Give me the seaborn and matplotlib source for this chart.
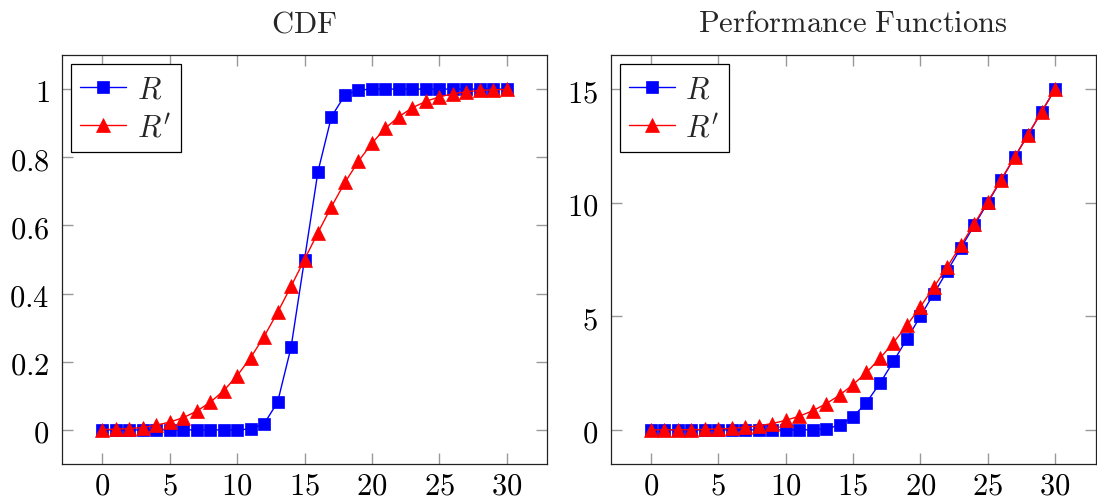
import matplotlib
matplotlib.use("Agg")
import matplotlib.pyplot as plt
import matplotlib.ticker as mticker
import seaborn as sns
import pandas as pd

x_vals = list(range(31))

cdf_R = [0.0, 0.0, 0.0, 0.0, 0.0, 0.0, 0.0, 0.0, 0.0, 0.0, 0.0,
         0.003, 0.018, 0.081, 0.242, 0.5, 0.758, 0.919, 0.982, 0.997, 1.0,
         1.0, 1.0, 1.0, 1.0, 1.0, 1.0, 1.0, 1.0, 1.0, 1.0]
cdf_Rp = [0.001, 0.002, 0.004, 0.007, 0.014, 0.023, 0.036, 0.055, 0.081, 0.115, 0.159,
          0.212, 0.274, 0.345, 0.421, 0.5, 0.579, 0.655, 0.726, 0.788, 0.841,
          0.885, 0.919, 0.945, 0.964, 0.977, 0.986, 0.992, 0.996, 0.998, 0.999]

perf_R = [0.0, 0.0, 0.0, 0.0, 0.0, 0.0, 0.0, 0.0, 0.0, 0.0, 0.0,
          0.001, 0.009, 0.052, 0.204, 0.57, 1.205, 2.054, 3.012, 4.0, 5.0,
          6.0, 7.0, 8.0, 9.0, 10.0, 11.0, 12.0, 13.0, 14.0, 15.0]
perf_Rp = [0.001, 0.003, 0.006, 0.011, 0.02, 0.04, 0.07, 0.12, 0.18, 0.28, 0.42,
           0.6, 0.84, 1.15, 1.53, 1.99, 2.53, 3.15, 3.84, 4.6, 5.42,
           6.28, 7.18, 8.12, 9.07, 10.04, 11.02, 12.01, 13.0, 14.0, 15.0]

titles = ["CDF", "Performance Functions"]
series_labels = ["$R$", "$R'$"]
x_ticks = [0, 5, 10, 15, 20, 25, 30]
y_ticks_cdf = [0, 0.2, 0.4, 0.6, 0.8, 1]
y_ticks_perf = [0, 5, 10, 15]

sns.set_style("ticks")
plt.rcParams["font.family"] = ["DejaVu Serif"]
plt.rcParams["mathtext.fontset"] = "cm"

FS = 22

fig = plt.figure(figsize=(10.97, 5.02), dpi=100)
ax1 = fig.add_axes([62 / 1097, 1 - 465 / 502, 485 / 1097, 409 / 502])
ax2 = fig.add_axes([610.5 / 1097, 1 - 465 / 502, 485 / 1097, 409 / 502])


def draw(ax, yR, yRp, ylim, yticks, title):
    df = pd.DataFrame({"x": x_vals, "R": yR, "Rp": yRp})
    sns.lineplot(data=df, x="x", y="R", ax=ax, color="blue", marker="s",
                 markersize=8.8, markeredgecolor="blue", markeredgewidth=0.5,
                 linewidth=1.0, label=series_labels[0])
    sns.lineplot(data=df, x="x", y="Rp", ax=ax, color="red", marker="^",
                 markersize=9.5, markeredgecolor="red", markeredgewidth=0.5,
                 linewidth=1.0, label=series_labels[1])
    ax.set_xlim(-3, 33)
    ax.set_ylim(*ylim)
    ax.set_xticks(x_ticks)
    ax.set_yticks(yticks)
    fmt = mticker.FuncFormatter(lambda v, p: "$%s$" % ("%g" % v))
    ax.xaxis.set_major_formatter(fmt)
    ax.yaxis.set_major_formatter(fmt)
    ax.set_xlabel("")
    ax.set_ylabel("")
    ax.tick_params(axis="both", which="major", direction="in", length=8,
                   width=1.0, color="#999999", labelsize=FS,
                   top=True, right=True, labelcolor="black")
    ax.tick_params(axis="x", pad=4)
    ax.tick_params(axis="y", pad=9)
    for s in ax.spines.values():
        s.set_visible(True)
        s.set_color("#222222")
        s.set_linewidth(0.9)
    ax.set_title("$\\mathrm{%s}$" % title.replace(" ", "\\ "), fontsize=FS, pad=17)
    leg = ax.legend(loc="upper left", fontsize=FS, frameon=True, fancybox=False,
                    edgecolor="black", framealpha=1, borderaxespad=0.3,
                    handlelength=1.5, handletextpad=0.35, borderpad=0.3,
                    labelspacing=0.25)
    leg.get_frame().set_linewidth(0.9)


draw(ax1, cdf_R, cdf_Rp, (-0.1, 1.1), y_ticks_cdf, titles[0])
draw(ax2, perf_R, perf_Rp, (-1.5, 16.5), y_ticks_perf, titles[1])

fig.savefig("out.png", dpi=100)
